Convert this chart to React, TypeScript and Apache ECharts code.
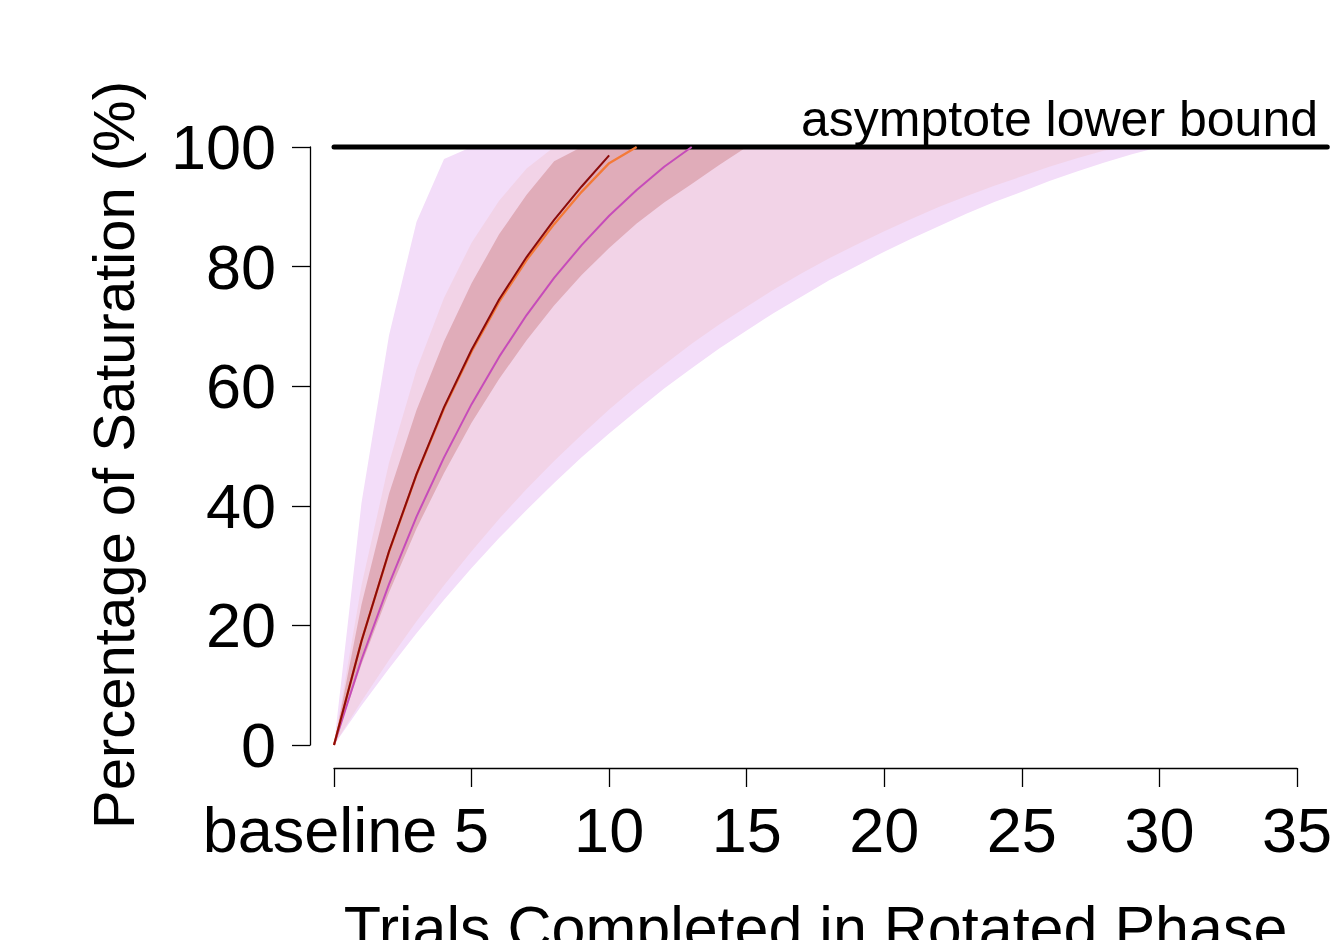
import React, { useEffect, useRef } from "react";
import * as echarts from "echarts";

const FONT = "'Liberation Sans', Arial, Helvetica, sans-serif";

// Trials completed in the rotated phase (0 = baseline)
const trials = [0, 1, 2, 3, 4, 5, 6, 7, 8, 9, 10, 11, 12, 13, 14, 15, 16, 17, 18, 19, 20, 21, 22, 23, 24, 25, 26, 27, 28, 29, 30, 31, 32, 33, 34, 35];
const xTicks = [0, 5, 10, 15, 20, 25, 30, 35];
const yTicks = [0, 20, 40, 60, 80, 100];

// widest (lavender) band
const lavUpper = [0, 40.5, 68.5, 87.5, 98, 100, 100, 100, 100, 100, 100, 100, 100, 100, 100, 100, 100, 100, 100, 100, 100, 100, 100, 100, 100, 100, 100, 100, 100, 100, 100];
const lavLower = [0, 6.6, 12.8, 18.7, 24.3, 29.6, 34.6, 39.3, 43.8, 48.1, 52.1, 55.9, 59.6, 63.0, 66.3, 69.3, 72.3, 75.0, 77.7, 80.1, 82.5, 84.7, 86.8, 88.9, 90.8, 92.5, 94.3, 95.9, 97.4, 98.8, 100];
// light pink band
const pinkUpper = [0, 26.7, 47.2, 62.8, 74.8, 84.0, 91.0, 96.4, 100, 100, 100, 100, 100, 100, 100, 100, 100, 100, 100, 100, 100, 100, 100, 100, 100, 100, 100, 100, 100, 100];
const pinkLower = [0, 7.3, 14.2, 20.7, 26.7, 32.4, 37.8, 42.8, 47.5, 51.9, 56.1, 60.0, 63.6, 67.1, 70.3, 73.3, 76.2, 78.9, 81.4, 83.7, 85.9, 88.0, 90.0, 91.8, 93.5, 95.1, 96.7, 98.1, 99.4, 100];
// darker pink band
const darkUpper = [0, 23.5, 42, 56, 67.5, 77.2, 85.4, 92.0, 97.6, 100, 100, 100, 100, 100, 100, 100];
const darkLower = [0, 13.5, 25.5, 36.2, 45.5, 53.9, 61.2, 67.7, 73.5, 78.6, 83.1, 87.2, 90.7, 93.8, 97.0, 100];

// mean curves
const darkRedLine = [0, 17.4, 32.4, 45.3, 56.5, 66.1, 74.5, 81.6, 87.8, 93.4, 98.6];
const orangeLine = [0, 17.4, 32.3, 45.2, 56.3, 65.8, 74.1, 81.1, 87.1, 92.5, 97.3, 100];
const magentaLine = [0, 14.3, 26.9, 38.2, 48.1, 57.0, 64.9, 71.9, 78.1, 83.6, 88.5, 92.8, 96.7, 100];

// asymptote lower bound (drawn from x = 0 to x = 36.1)
const asymptoteX = [0, 36.1];
const asymptoteY = 100;

export default function App() {
  const ref = useRef<HTMLDivElement>(null);

  useEffect(() => {
    const chart = echarts.init(ref.current as HTMLDivElement, null, { renderer: "svg" });

    const band = (name: string, lower: number[], upper: number[], color: string) => ({
      type: "custom",
      name,
      silent: true,
      data: lower.map((l, i) => [trials[i], l, upper[i]]),
      encode: { x: 0, y: [1, 2] },
      renderItem: (params: any, api: any) => {
        if (params.dataIndex !== 0) return null;
        const pts: number[][] = [];
        for (let i = 0; i < upper.length; i++) pts.push(api.coord([trials[i], upper[i]]));
        for (let i = lower.length - 1; i >= 0; i--) pts.push(api.coord([trials[i], lower[i]]));
        return { type: "polygon", shape: { points: pts }, style: { fill: color } };
      },
    });

    const line = (name: string, values: number[], color: string, width: number) => ({
      type: "line",
      name,
      data: values.map((v, i) => [trials[i], v]),
      symbol: "none",
      silent: true,
      lineStyle: { color, width },
    });

    chart.setOption({
      animation: false,
      grid: {
        left: 334,
        width: 963,
        top: 147,
        height: 598,
        containLabel: false,
        outerBoundsMode: "none",
      },
      xAxis: {
        type: "value",
        min: xTicks[0],
        max: xTicks[xTicks.length - 1],
        interval: 5,
        offset: 23,
        axisLine: { show: true, onZero: false, lineStyle: { color: "#000", width: 1.3 } },
        axisTick: { show: true, length: 19, lineStyle: { color: "#000", width: 1.3 } },
        axisLabel: {
          margin: 30,
          fontSize: 63,
          color: "#000",
          fontFamily: FONT,
          showMinLabel: true,
          showMaxLabel: true,
          formatter: (v: number) => (v === 0 ? "{b|baseline}" : String(v)),
          rich: { b: { fontSize: 63, color: "#000", fontFamily: FONT, padding: [0, 28, 0, 0] } },
        },
        splitLine: { show: false },
        name: "Trials Completed in Rotated Phase",
        nameLocation: "middle",
        nameGap: 129,
        nameTextStyle: { fontSize: 61, color: "#000", fontFamily: FONT },
      },
      yAxis: {
        type: "value",
        min: yTicks[0],
        max: yTicks[yTicks.length - 1],
        interval: 20,
        offset: 24,
        axisLine: { show: true, onZero: false, lineStyle: { color: "#000", width: 1.3 } },
        axisTick: { show: true, length: 18, lineStyle: { color: "#000", width: 1.3 } },
        axisLabel: {
          margin: 34,
          fontSize: 63,
          color: "#000",
          fontFamily: FONT,
          padding: [7, 0, 0, 0],
          showMinLabel: true,
          showMaxLabel: true,
        },
        splitLine: { show: false },
        name: "Percentage of Saturation (%)",
        nameLocation: "middle",
        nameGap: 168,
        nameTextStyle: { fontSize: 58, color: "#000", fontFamily: FONT, padding: [0, 18, 0, 0] },
      },
      graphic: [
        {
          type: "text",
          x: 1318,
          y: 118.7,
          silent: true,
          style: {
            text: "asymptote lower bound",
            fontSize: 50,
            fontFamily: FONT,
            fill: "#000",
            align: "right",
            verticalAlign: "middle",
            textAlign: "right",
            textVerticalAlign: "middle",
          },
        },
      ],
      series: [
        band("lavender band", lavLower, lavUpper, "#f3ddf9"),
        band("pink band", pinkLower, pinkUpper, "#f2d3e7"),
        band("dark pink band", darkLower, darkUpper, "#e0acb9"),
        line("magenta", magentaLine, "#c64cb9", 2),
        line("orange", orangeLine, "#f47a38", 2.3),
        line("dark red", darkRedLine, "#8b0a0a", 2),
        {
          type: "custom",
          name: "asymptote",
          silent: true,
          data: asymptoteX.map((x) => [x, asymptoteY]),
          encode: { x: 0, y: 1 },
          renderItem: (params: any, api: any) => {
            if (params.dataIndex !== 0) return null;
            const a = api.coord([asymptoteX[0], asymptoteY]);
            const b = api.coord([asymptoteX[1], asymptoteY]);
            return {
              type: "line",
              shape: { x1: a[0], y1: a[1], x2: b[0], y2: b[1] },
              style: { stroke: "#000", lineWidth: 5, lineCap: "round" },
            };
          },
        },
      ],
    });

    return () => chart.dispose();
  }, []);

  return (
    <div
      ref={ref}
      style={{ position: "absolute", left: 0, top: 0, width: 1336, height: 940, background: "#fff" }}
    />
  );
}
